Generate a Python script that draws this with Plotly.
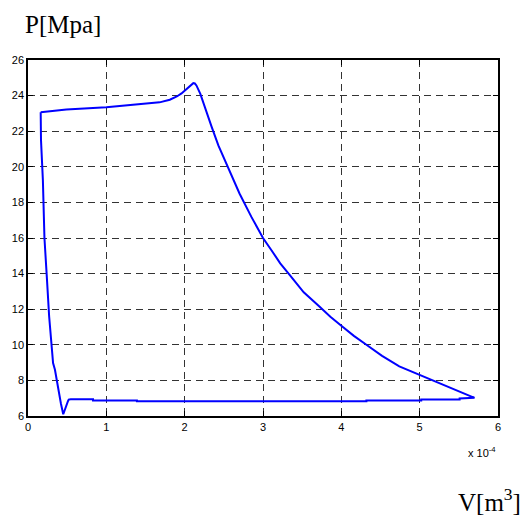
import plotly.graph_objects as go

# Volume in units of 1e-4 m^3, pressure in MPa (closed cycle path)
V_e4 = [0.162, 0.32, 0.49, 1.0, 1.43, 1.68, 1.81, 1.9, 1.96, 2.0, 2.05, 2.09, 2.11, 2.13, 2.15, 2.2, 2.24, 2.34,
        2.43, 2.53, 2.70, 2.85, 3.0, 3.11, 3.22, 3.34, 3.52, 3.72, 3.86, 4.0, 4.16, 4.32, 4.52, 4.74, 5.02, 5.34, 5.70,
        5.51, 5.51, 5.02, 5.02, 4.32, 4.32, 1.39, 1.39, 0.83, 0.83, 0.545, 0.52, 0.51,
        0.48, 0.45, 0.42, 0.39, 0.344, 0.32, 0.27, 0.24, 0.217, 0.21, 0.19, 0.175, 0.166, 0.162]
P_mpa = [23.07, 23.13, 23.22, 23.35, 23.5, 23.62, 23.77, 23.95, 24.12, 24.29, 24.48, 24.64, 24.7, 24.68, 24.57, 24.1, 23.55, 22.3,
         21.2, 20.2, 18.5, 17.2, 16.0, 15.3, 14.58, 13.93, 12.95, 12.15, 11.58, 11.07, 10.5, 10.0, 9.38, 8.79, 8.27, 7.67, 7.02,
         6.98, 6.92, 6.92, 6.87, 6.87, 6.83, 6.83, 6.87, 6.87, 6.94, 6.94, 6.92, 6.83,
         6.4, 6.1, 6.7, 7.48, 8.6, 8.98, 11.59, 13.83, 15.33, 16.0, 19.25, 20.9, 21.5, 23.07]

x_ticks = [0, 1, 2, 3, 4, 5, 6]
y_ticks = [6, 8, 10, 12, 14, 16, 18, 20, 22, 24, 26]

fig = go.Figure()
fig.add_trace(go.Scatter(x=V_e4, y=P_mpa, mode="lines",
                         line=dict(color="#0000FF", width=2),
                         hoverinfo="skip"))

axis_common = dict(
    showline=True, linecolor="black", linewidth=1.5, mirror="ticks",
    ticks="inside", ticklen=5, tickcolor="black", tickwidth=1,
    showgrid=True, gridcolor="#333333", gridwidth=1, griddash="7px,5px",
    zeroline=False, automargin=False,
    tickfont=dict(family="Liberation Sans, Arial", size=11, color="black"),
)

fig.update_xaxes(range=[0, 6], tickvals=x_ticks, ticktext=[str(v) for v in x_ticks], **axis_common)
fig.update_yaxes(range=[6, 26], tickvals=y_ticks, ticktext=[str(v) for v in y_ticks], **axis_common)

fig.update_layout(
    width=520, height=509,
    margin=dict(l=20, r=29.5, t=51.5, b=100.5),
    paper_bgcolor="white", plot_bgcolor="white",
    showlegend=False,
    annotations=[
        dict(text="P[Mpa]", xref="paper", yref="paper", x=-0.0113, y=1.100,
             xanchor="left", yanchor="middle", showarrow=False,
             font=dict(family="Liberation Serif, Times New Roman", size=25, color="black")),
        dict(text="V[m<sup>3</sup>]", xref="paper", yref="paper", x=0.911, y=-0.237,
             xanchor="left", yanchor="middle", showarrow=False,
             font=dict(family="Liberation Serif, Times New Roman", size=25, color="black")),
        dict(text="x 10<sup>-4</sup>", xref="paper", yref="paper", x=0.999, y=-0.100,
             xanchor="right", yanchor="middle", showarrow=False,
             font=dict(family="Liberation Sans, Arial", size=11, color="black")),
    ],
)

fig.write_html("out.html")
